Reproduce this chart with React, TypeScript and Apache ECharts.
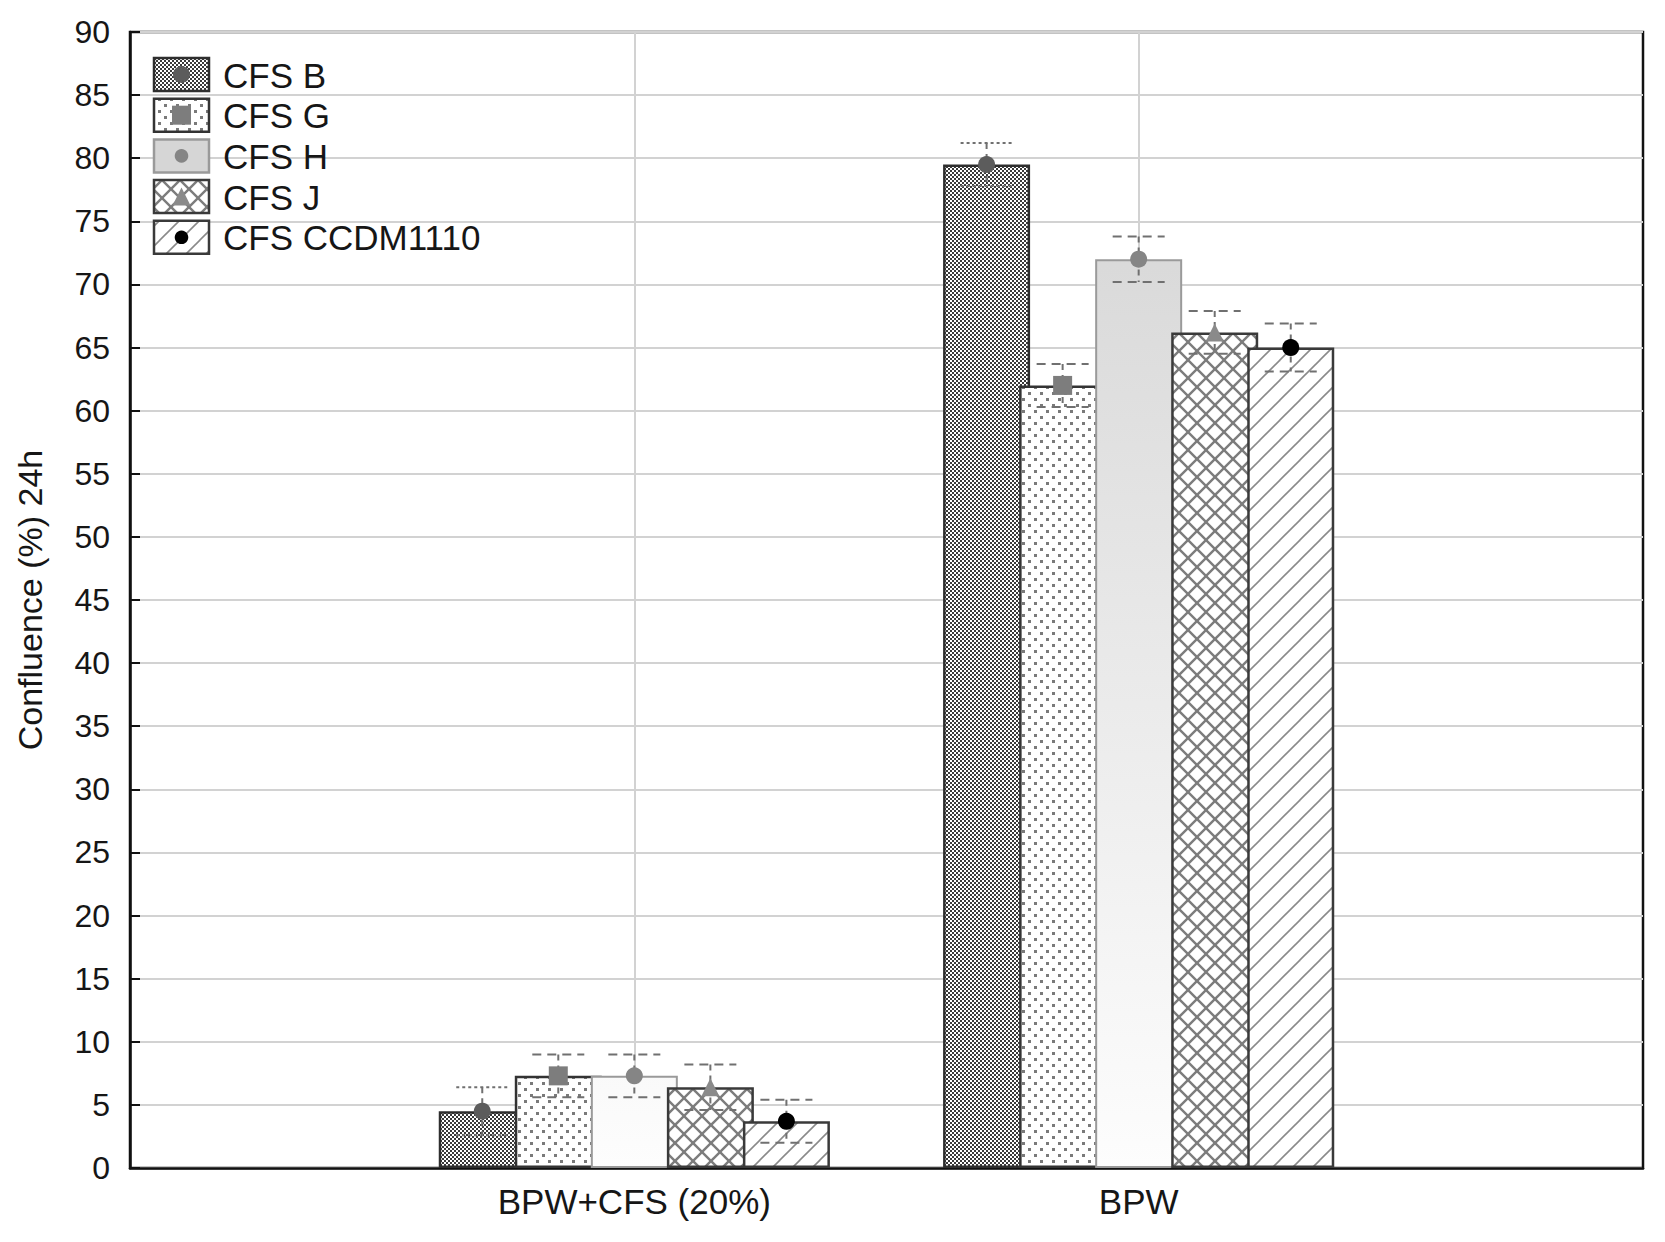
import React, { useEffect, useRef } from "react";
import * as echarts from "echarts";

// Group labels on the x axis
const categories = ["BPW+CFS (20%)", "BPW"];
// Padding slots so the two groups sit at 1/3 and 2/3 of the plot width
const axisSlots = ["", ...categories, " "];

const seriesNames = ["CFS B", "CFS G", "CFS H", "CFS J", "CFS CCDM1110"];

// Mean confluence (%) after 24h, per group
const cfsB = [4.5, 79.5];
const cfsG = [7.3, 62.0];
const cfsH = [7.3, 72.0];
const cfsJ = [6.4, 66.2];
const cfsCCDM = [3.7, 65.0];

// Error (±) per group
const errB = [1.9, 1.7];
const errG = [1.7, 1.7];
const errH = [1.7, 1.8];
const errJ = [1.8, 1.7];
const errCCDM = [1.7, 1.9];

const means = [cfsB, cfsG, cfsH, cfsJ, cfsCCDM];
const errors = [errB, errG, errH, errJ, errCCDM];

const FONT = '"Liberation Sans", Arial, Helvetica, sans-serif';
const TEXT = "#161616";

const BAR_WIDTH = 87;
const BAR_GAP = -0.126;
const STEP = BAR_WIDTH * (1 + BAR_GAP);

function tile(w: number, h: number, draw: (ctx: CanvasRenderingContext2D) => void) {
  const c = document.createElement("canvas");
  c.width = w;
  c.height = h;
  const ctx = c.getContext("2d")!;
  draw(ctx);
  return { image: c, repeat: "repeat", imageWidth: w, imageHeight: h } as any;
}

function makeFills() {
  const checker = tile(4, 4, (ctx) => {
    ctx.fillStyle = "#ffffff";
    ctx.fillRect(0, 0, 4, 4);
    ctx.fillStyle = "#3a3a3a";
    ctx.fillRect(0, 0, 2, 2);
    ctx.fillRect(2, 2, 2, 2);
  });
  const dots = tile(12, 12, (ctx) => {
    ctx.fillStyle = "#ffffff";
    ctx.fillRect(0, 0, 12, 12);
    ctx.fillStyle = "#7a7a7a";
    ctx.fillRect(2, 2, 3, 3);
    ctx.fillRect(8, 8, 3, 3);
  });
  const seg = (ctx: CanvasRenderingContext2D, x1: number, y1: number, x2: number, y2: number) => {
    ctx.beginPath();
    ctx.moveTo(x1, y1);
    ctx.lineTo(x2, y2);
    ctx.stroke();
  };
  const cross = tile(18, 18, (ctx) => {
    ctx.fillStyle = "#ffffff";
    ctx.fillRect(0, 0, 18, 18);
    ctx.strokeStyle = "#7c7c7c";
    ctx.lineWidth = 2.4;
    seg(ctx, -18, 0, 18, 36);
    seg(ctx, 0, 0, 18, 18);
    seg(ctx, 0, -18, 36, 18);
    seg(ctx, 0, 18, 18, 0);
    seg(ctx, -18, 18, 18, -18);
    seg(ctx, 0, 36, 36, 0);
  });
  const hatch = tile(20, 20, (ctx) => {
    ctx.fillStyle = "#ffffff";
    ctx.fillRect(0, 0, 20, 20);
    ctx.strokeStyle = "#8a8a8a";
    ctx.lineWidth = 1.6;
    seg(ctx, 0, 20, 20, 0);
    seg(ctx, -20, 20, 20, -20);
    seg(ctx, 0, 40, 40, 0);
  });
  const shade = new echarts.graphic.LinearGradient(
    0, 240, 0, 1168,
    [
      { offset: 0, color: "#d9d9d9" },
      { offset: 1, color: "#fdfdfd" },
    ],
    true
  );
  return { checker, dots, cross, hatch, shade };
}

type Marker = { kind: "circle" | "square" | "triangle"; color: string; size: number };
const markers: Marker[] = [
  { kind: "circle", color: "#5c5c5c", size: 17 },
  { kind: "square", color: "#7d7d7d", size: 19 },
  { kind: "circle", color: "#858585", size: 17 },
  { kind: "triangle", color: "#8a8a8a", size: 18 },
  { kind: "circle", color: "#000000", size: 17 },
];
const borderColors = ["#2e2e2e", "#333333", "#9a9a9a", "#3a3a3a", "#3a3a3a"];
const capDash = [[3, 3], [9, 6], [9, 6], [9, 6], [9, 6]];

function markerShape(m: Marker, cx: number, cy: number, scale = 1, z2 = 0) {
  const s = m.size * scale;
  if (m.kind === "circle") {
    return { type: "circle", z2, shape: { cx, cy, r: s / 2 }, style: { fill: m.color } };
  }
  if (m.kind === "square") {
    return { type: "rect", z2, shape: { x: cx - s / 2, y: cy - s / 2, width: s, height: s }, style: { fill: m.color } };
  }
  return {
    type: "polygon",
    z2,
    shape: { points: [[cx, cy - s / 2], [cx + s / 2, cy + s / 2], [cx - s / 2, cy + s / 2]] },
    style: { fill: m.color },
  };
}

export default function App() {
  const ref = useRef<HTMLDivElement>(null);

  useEffect(() => {
    document.body.style.margin = "0";
    const el = ref.current;
    if (!el) return;
    const chart = echarts.init(el, null, { renderer: "svg" });
    const fills = makeFills();
    const barFills = [fills.checker, fills.dots, fills.shade, fills.cross, fills.hatch];
    const legendFills = [fills.checker, fills.dots, "#d6d6d6", fills.cross, fills.hatch];

    const barSeries = seriesNames.map((name, i) => ({
      name,
      type: "bar",
      barWidth: BAR_WIDTH,
      barGap: `${BAR_GAP * 100}%`,
      itemStyle: {
        color: barFills[i],
        borderColor: borderColors[i],
        borderWidth: i === 2 ? 2 : 2.5,
      },
      data: categories.map((c, k) => [c, means[i][k]]),
      z: 2,
    }));

    const errorSeries = seriesNames.map((name, i) => ({
      name: name + " ±",
      type: "custom",
      z: 5,
      data: categories.map((c, k) => [c, means[i][k], errors[i][k]]),
      renderItem: (params: any, api: any) => {
        const cat = api.value(0);
        const v = api.value(1);
        const e = api.value(2);
        const mid = api.coord([cat, v]);
        const hi = api.coord([cat, v + e]);
        const lo = api.coord([cat, v - e]);
        const x = mid[0] + (i - 2) * STEP;
        const half = 26;
        const lineStyle = { stroke: "#707070", lineWidth: 2, lineDash: capDash[i] };
        return {
          type: "group",
          children: [
            { type: "line", shape: { x1: x, y1: hi[1], x2: x, y2: lo[1] }, style: { stroke: "#707070", lineWidth: 2, lineDash: [6, 5] } },
            { type: "line", shape: { x1: x - half, y1: hi[1], x2: x + half, y2: hi[1] }, style: lineStyle },
            { type: "line", shape: { x1: x - half, y1: lo[1], x2: x + half, y2: lo[1] }, style: lineStyle },
            markerShape(markers[i], x, mid[1]),
          ],
        };
      },
    }));

    // Legend: pattern swatch, marker and name for each series
    const legendItems: any[] = [];
    seriesNames.forEach((name, i) => {
      const top = 58 + i * 40.7;
      legendItems.push({
        type: "rect",
        z: 100,
        shape: { x: 154, y: top, width: 55, height: 33 },
        style: { fill: legendFills[i], stroke: borderColors[i], lineWidth: 2.5 },
      });
      legendItems.push({
        ...markerShape(markers[i], 181.5, top + 16.5, i === 2 || i === 4 ? 0.8 : 1),
        z: 101,
      });
      legendItems.push({
        type: "text",
        z: 101,
        x: 223,
        y: top + 17,
        style: { text: name, fill: TEXT, font: `35px ${FONT}`, verticalAlign: "middle", align: "left" },
      });
    });

    chart.setOption({
      animation: false,
      backgroundColor: "#ffffff",
      textStyle: { fontFamily: FONT },
      grid: {
        left: 130,
        top: 32,
        right: 22,
        bottom: 74,
        show: true,
        borderColor: "#111111",
        borderWidth: 2.5,
        backgroundColor: "transparent",
      },
      xAxis: {
        type: "category",
        data: axisSlots,
        boundaryGap: false,
        axisLine: { lineStyle: { color: "#111111", width: 2.5 } },
        axisTick: { inside: true, length: 8, lineStyle: { color: "#111111", width: 2 } },
        axisLabel: { fontSize: 35, color: TEXT, margin: 16, fontFamily: FONT },
        splitLine: {
          show: true,
          interval: (idx: number) => idx === 1 || idx === 2,
          lineStyle: { color: "#d2d2d2", width: 2 },
        },
      },
      yAxis: {
        type: "value",
        min: 0,
        max: 90,
        interval: 5,
        name: "Confluence (%) 24h",
        nameLocation: "middle",
        nameGap: 83,
        nameTextStyle: { fontSize: 34, color: TEXT, fontFamily: FONT },
        axisLine: { show: true, lineStyle: { color: "#111111", width: 2.5 } },
        axisTick: { show: true, inside: true, length: 10, lineStyle: { color: "#111111", width: 2 } },
        axisLabel: { fontSize: 32, color: TEXT, margin: 20, fontFamily: FONT },
        splitLine: { show: true, lineStyle: { color: "#d2d2d2", width: 2 } },
      },
      graphic: { elements: legendItems },
      series: [...barSeries, ...errorSeries],
    } as any);

    return () => chart.dispose();
  }, []);

  return <div ref={ref} style={{ width: 1665, height: 1242 }} />;
}
